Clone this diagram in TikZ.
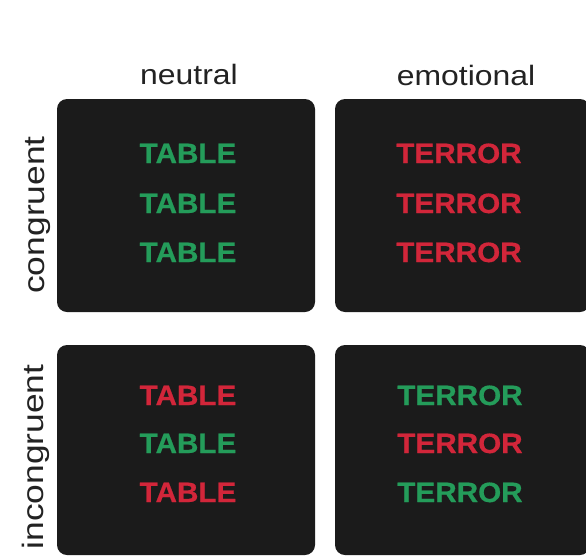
\documentclass[tikz,border=0pt]{standalone}
\usepackage{fontspec}
\setmainfont{Liberation Sans}
\newfontfamily\wordfont[FakeStretch=1.06, FakeBold=0.6]{Liberation Sans Bold}
\newfontfamily\headfont[FakeStretch=1.14]{Liberation Sans}
\newfontfamily\sidefont[FakeStretch=1.2]{Liberation Sans}
\definecolor{panelbg}{RGB}{27,27,27}
\definecolor{wgreen}{RGB}{36,156,90}
\definecolor{wred}{RGB}{210,38,58}
\definecolor{labelgray}{RGB}{34,34,34}
\tikzset{
  panel/.style={draw=none, fill=panelbg, rounded corners=10pt, inner sep=0pt,
                minimum width=#1, shape=rectangle},
  word/.style={anchor=base, inner sep=0pt, text=#1,
               font=\wordfont\fontsize{28}{32}\selectfont},
  head/.style={anchor=base, inner sep=0pt, text=labelgray,
               font=\headfont\fontsize{28}{32}\selectfont},
  side/.style={anchor=base, inner sep=0pt, rotate=90, text=labelgray,
               font=\sidefont\fontsize{29.5}{32}\selectfont}
}
\begin{document}
\begin{tikzpicture}[x=1pt, y=-1pt]
\useasboundingbox[fill=white] (0,0) rectangle (586,557);

% four stimulus panels
\node[panel=258pt, minimum height=213pt] (p1) at (186,205.5) {};
\node[panel=255pt, minimum height=213pt] (p2) at (462.5,205.5) {};
\node[panel=258pt, minimum height=210pt] (p3) at (186,450) {};
\node[panel=255pt, minimum height=210pt] (p4) at (462.5,450) {};

% column and row headings
\node[head] (hneutral) at (189,84) {neutral};
\node[head] (hemotional) at (466,85) {emotional};
\node[side] (scongruent) at (44,215) {congruent};
\node[side] (sincongruent) at (43,457) {incongruent};

% neutral congruent
\node[word=wgreen] (a1) at (188,163) {TABLE};
\node[word=wgreen] (a2) at (188,213) {TABLE};
\node[word=wgreen] (a3) at (188,262) {TABLE};
% emotional congruent
\node[word=wred] (b1) at (459,163) {TERROR};
\node[word=wred] (b2) at (459,213) {TERROR};
\node[word=wred] (b3) at (459,262) {TERROR};
% neutral incongruent
\node[word=wred] (c1) at (188,405) {TABLE};
\node[word=wgreen] (c2) at (188,453) {TABLE};
\node[word=wred] (c3) at (188,502) {TABLE};
% emotional incongruent
\node[word=wgreen] (d1) at (460,405) {TERROR};
\node[word=wred] (d2) at (460,453) {TERROR};
\node[word=wgreen] (d3) at (460,502) {TERROR};
\end{tikzpicture}
\end{document}
